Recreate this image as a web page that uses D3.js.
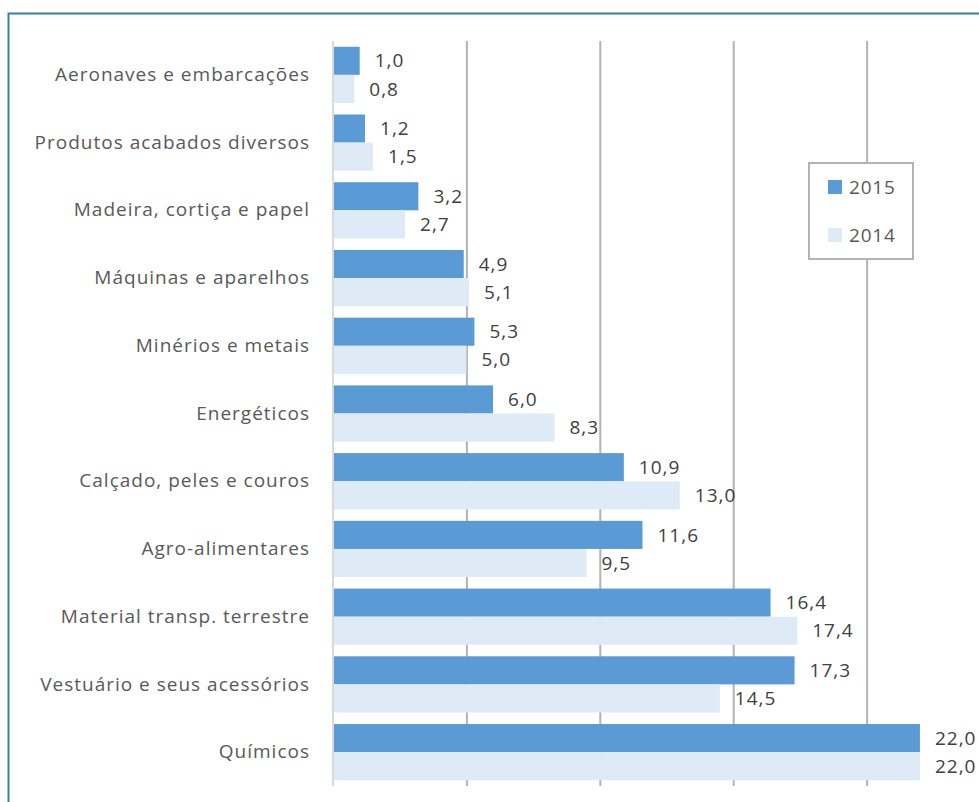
<!DOCTYPE html>
<html>
<head>
<meta charset="utf-8">
<script src="https://cdnjs.cloudflare.com/ajax/libs/d3/7.8.5/d3.min.js"></script>
<style>
  body { margin: 0; background: #fff; }
  svg { display: block; font-family: 'Open Sans', sans-serif; }
</style>
</head>
<body>
<div class="chart"></div>
<script>
/** Data (top to bottom) */
let categories = ["Aeronaves e embarcações", "Produtos acabados diversos", "Madeira, cortiça e papel",
                  "Máquinas e aparelhos", "Minérios e metais", "Energéticos", "Calçado, peles e couros",
                  "Agro-alimentares", "Material transp. terrestre", "Vestuário e seus acessórios", "Químicos"];
let values2015 = [1.0, 1.2, 3.2, 4.9, 5.3, 6.0, 10.9, 11.6, 16.4, 17.3, 22.0];
let values2014 = [0.8, 1.5, 2.7, 5.1, 5.0, 8.3, 13.0, 9.5, 17.4, 14.5, 22.0];
let seriesNames = ["2015", "2014"];
let xTicks = [5, 10, 15, 20];

let colors = { "2015": "#5b9bd5", "2014": "#deebf7" };

/** canvas */
let width = 979, height = 802;
let svg = d3.select('.chart').append('svg')
    .attr('width', width)
    .attr('height', height);

/** frame round the chart */
svg.append('rect')
    .attr('x', 8.5).attr('y', 13.5)
    .attr('width', 1000).attr('height', 1000)
    .attr('fill', 'none')
    .attr('stroke', '#31849b')
    .attr('stroke-width', 2);

/** scales */
let xScale = d3.scaleLinear().domain([0, 25]).range([333, 1000]);
let yScale = d3.scaleBand()
    .domain(categories)
    .range([41, 786])
    .paddingInner(0.17)
    .paddingOuter(0.085);
let yInner = d3.scaleBand().domain(seriesNames).range([0, yScale.bandwidth()]);

/** gridlines */
let grid = svg.append('g')
    .attr('transform', 'translate(0,41)')
    .call(d3.axisBottom(xScale).tickValues(xTicks).tickSize(745).tickFormat(''));
grid.select('.domain').remove();
grid.selectAll('line').attr('stroke', '#b3b3b3').attr('stroke-width', 2);

/** build rows */
let rows = categories.map((c, i) => ({ cat: c, vals: [
    { key: "2015", value: values2015[i] },
    { key: "2014", value: values2014[i] }] }));

let fmt = v => v.toFixed(1).replace('.', ',');

let groups = svg.selectAll('.row')
    .data(rows)
    .enter().append('g')
    .attr('class', 'row')
    .attr('transform', d => `translate(0, ${yScale(d.cat)})`);

groups.selectAll('rect')
    .data(d => d.vals)
    .enter().append('rect')
    .attr('x', xScale(0) + 1)
    .attr('y', d => yInner(d.key))
    .attr('width', d => xScale(d.value) - xScale(0) - 1)
    .attr('height', yInner.bandwidth())
    .attr('fill', d => colors[d.key]);

groups.selectAll('.val')
    .data(d => d.vals)
    .enter().append('text')
    .attr('class', 'val')
    .attr('x', d => xScale(d.value) + 15)
    .attr('y', d => yInner(d.key) + yInner.bandwidth() / 2)
    .attr('dy', '0.35em')
    .style('font-size', '19px')
    .style('letter-spacing', '1px')
    .attr('fill', '#404040')
    .text(d => fmt(d.value));

/** y axis: zero line + category labels */
let yAxis = svg.append('g')
    .attr('transform', `translate(${xScale(0)},0)`)
    .call(d3.axisLeft(yScale).tickSize(0).tickPadding(23));
yAxis.select('.domain').remove();
yAxis.selectAll('text')
    .style('font-size', '19px')
    .style('font-family', "'Open Sans', sans-serif")
    .style('letter-spacing', '1px')
    .attr('fill', '#595959');
svg.append('line')
    .attr('x1', xScale(0)).attr('x2', xScale(0))
    .attr('y1', 41).attr('y2', 786)
    .attr('stroke', '#d9d9d9').attr('stroke-width', 2);

/** legend */
let legend = svg.append('g');
legend.append('rect')
    .attr('x', 809).attr('y', 163)
    .attr('width', 104).attr('height', 96)
    .attr('fill', '#fff')
    .attr('stroke', '#b3b3b3')
    .attr('stroke-width', 2);
seriesNames.forEach((s, i) => {
    legend.append('rect')
        .attr('x', 828).attr('y', 180 + i * 48)
        .attr('width', 14).attr('height', 14)
        .attr('fill', colors[s]);
    legend.append('text')
        .attr('x', 849).attr('y', 187 + i * 48)
        .attr('dy', '0.35em')
        .style('font-size', '19px')
        .style('letter-spacing', '0.8px')
        .attr('fill', '#595959')
        .text(s);
});
</script>
</body>
</html>
